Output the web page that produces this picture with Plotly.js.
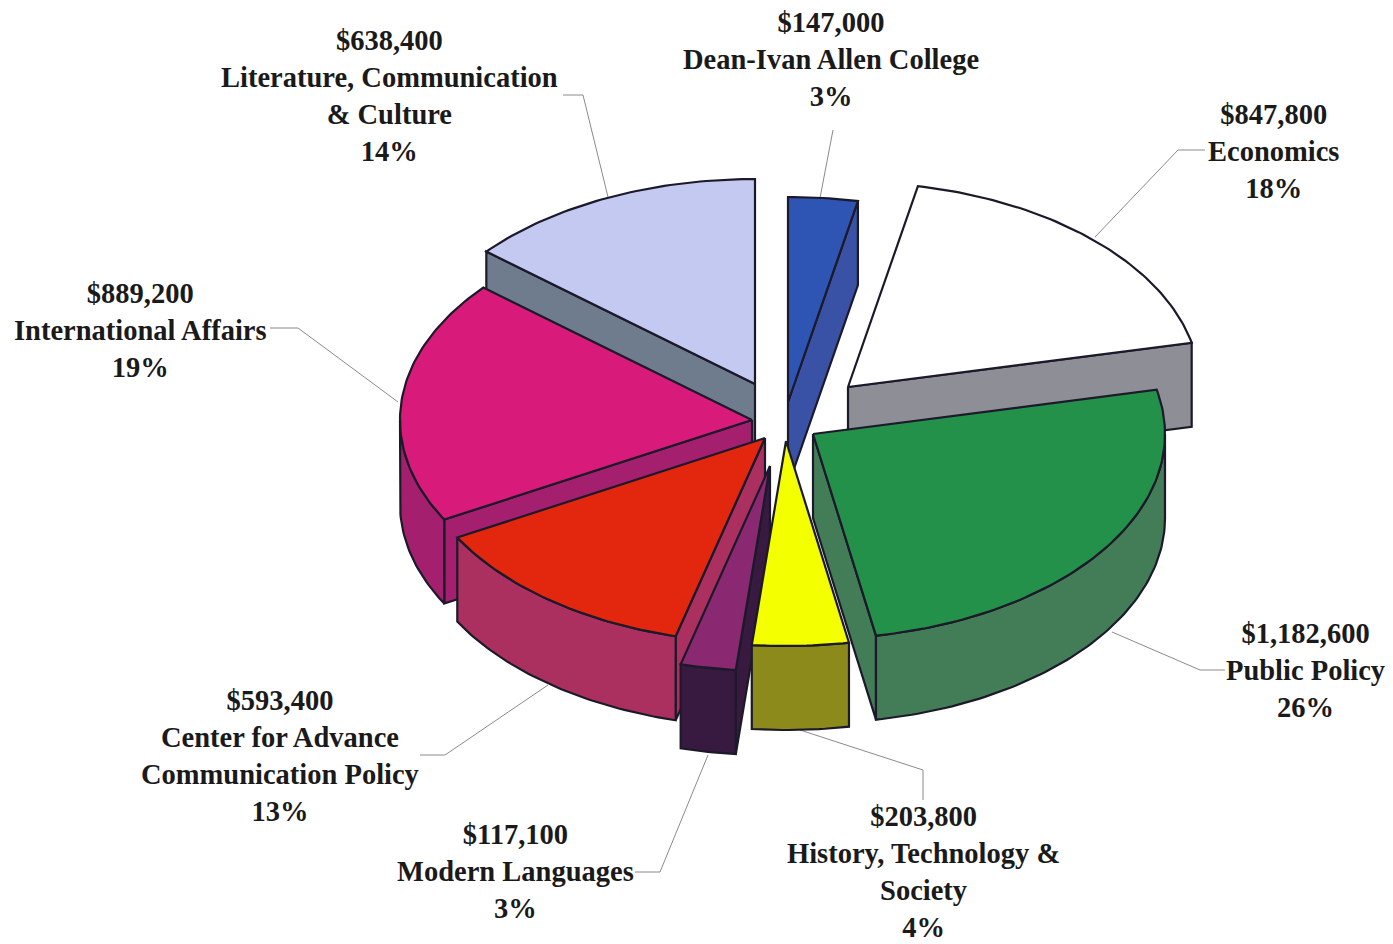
<!DOCTYPE html>
<html>
<head>
<meta charset="utf-8">
<script src="https://cdn.plot.ly/plotly-3.0.1.min.js"></script>
<style>html,body{margin:0;padding:0;background:#fff}#chart{width:1393px;height:944px}</style>
</head>
<body>
<div id="chart"></div>
<script>
// Data: clockwise from 12 o'clock
var names = ["Dean-Ivan Allen College","Economics","Public Policy","History, Technology &<br>Society","Modern Languages","Center for Advance<br>Communication Policy","International Affairs","Literature, Communication<br>& Culture"];
var values = [147000,847800,1182600,203800,117100,593400,889200,638400];
var percents = ["3%","18%","26%","4%","3%","13%","19%","14%"];

// Styles
var topColors  = ["#2f55b4","#ffffff","#23914a","#f4ff00","#8a2872","#e3260e","#d81a7a","#c3c9f0"];
var wallColors = ["#3a52a5","#8e8e96","#437d58","#8d8a1c","#38193f","#ab3060","#a51f6f","#6f7c8e"];

// Exploded position of each slice's apex, in the page's pixel frame
var apexX = [788,848,813,786,770,765,752,755];
var apexY = [402,387,434,441,466,438,420,384];
var drawOrder = [7,0,1,2,6,5,4,3];
var rx = 352, ry = 205, depth = 84;

// Label anchors and leader lines
var labelX = [831,1273,1305,923,515,280,140,389];
var labelY = [59,151,670,872,871,756,330,95.5];
var leaders = [
  "M833,130 L820,198",
  "M1205,150 L1178,150 L1095,237",
  "M1225,670 L1200,670 L1112,632",
  "M923,800 L923,770 L800,730",
  "M635,872 L660,872 L708,755",
  "M420,755 L445,755 L548,685",
  "M270,328 L298,328 L398,402",
  "M563,95 L583,95 L608,197"
];

var total = values.reduce(function(a,b){return a+b;},0);
var starts = [], ends = [], cum = 0;
values.forEach(function(v){ starts.push(cum); cum += v/total*360; ends.push(cum); });
function rad(d){return d*Math.PI/180;}
function px(i,t){return apexX[i]+rx*Math.sin(rad(t));}
function py(i,t){return apexY[i]-ry*Math.cos(rad(t));}
function arc(i,a,b,dy){
  var xs=[],ys=[],n=Math.max(2,Math.ceil(Math.abs(b-a)));
  for(var k=0;k<=n;k++){var t=a+(b-a)*k/n;xs.push(px(i,t));ys.push(py(i,t)+dy);}
  return {x:xs,y:ys};
}
var traces=[];
function face(xs,ys,fill){
  traces.push({type:'scatter',mode:'lines',x:xs,y:ys,fill:'toself',fillcolor:fill,
    line:{color:'#1c1a2a',width:2.2,shape:'linear'},hoverinfo:'skip',showlegend:false});
}
drawOrder.forEach(function(i){
  var t0=starts[i],t1=ends[i],ax=apexX[i],ay=apexY[i];
  // Start cut face, visible when it turns toward the viewer
  if(t0>180&&t0<360){
    face([ax,px(i,t0),px(i,t0),ax,ax],[ay,py(i,t0),py(i,t0)+depth,ay+depth,ay],wallColors[i]);
  }
  if(t1>0&&t1<180){
    face([ax,px(i,t1),px(i,t1),ax,ax],[ay,py(i,t1),py(i,t1)+depth,ay+depth,ay],wallColors[i]);
  }
  // Outer wall
  var a=Math.max(t0,90),b=Math.min(t1,270);
  if(b>a){
    var up=arc(i,a,b,0),dn=arc(i,b,a,depth);
    face(up.x.concat(dn.x,[up.x[0]]),up.y.concat(dn.y,[up.y[0]]),wallColors[i]);
  }
  // Top face
  var top=arc(i,t0,t1,0);
  face([ax].concat(top.x,[ax]),[ay].concat(top.y,[ay]),topColors[i]);
});

var annotations=names.map(function(n,i){
  return {xref:'x',yref:'y',x:labelX[i],y:labelY[i],showarrow:false,align:'center',
    xanchor:'center',yanchor:'middle',
    text:'<b>$'+values[i].toLocaleString('en-US')+'<br>'+n+'<br>'+percents[i]+'</b>',
    font:{family:'"Liberation Serif",serif',size:28.5,color:'#1a1a1a'}};
});
var shapes=leaders.map(function(p){
  return {type:'path',path:p,xref:'x',yref:'y',line:{color:'#8a8a8a',width:1},layer:'below'};
});
var layout={width:1393,height:944,margin:{l:0,r:0,t:0,b:0},paper_bgcolor:'#fff',plot_bgcolor:'#fff',
  showlegend:false,annotations:annotations,shapes:shapes,
  xaxis:{range:[0,1393],visible:false,fixedrange:true},
  yaxis:{range:[944,0],visible:false,fixedrange:true}};
Plotly.newPlot('chart',traces,layout,{displayModeBar:false,staticPlot:true});
</script>
</body>
</html>
